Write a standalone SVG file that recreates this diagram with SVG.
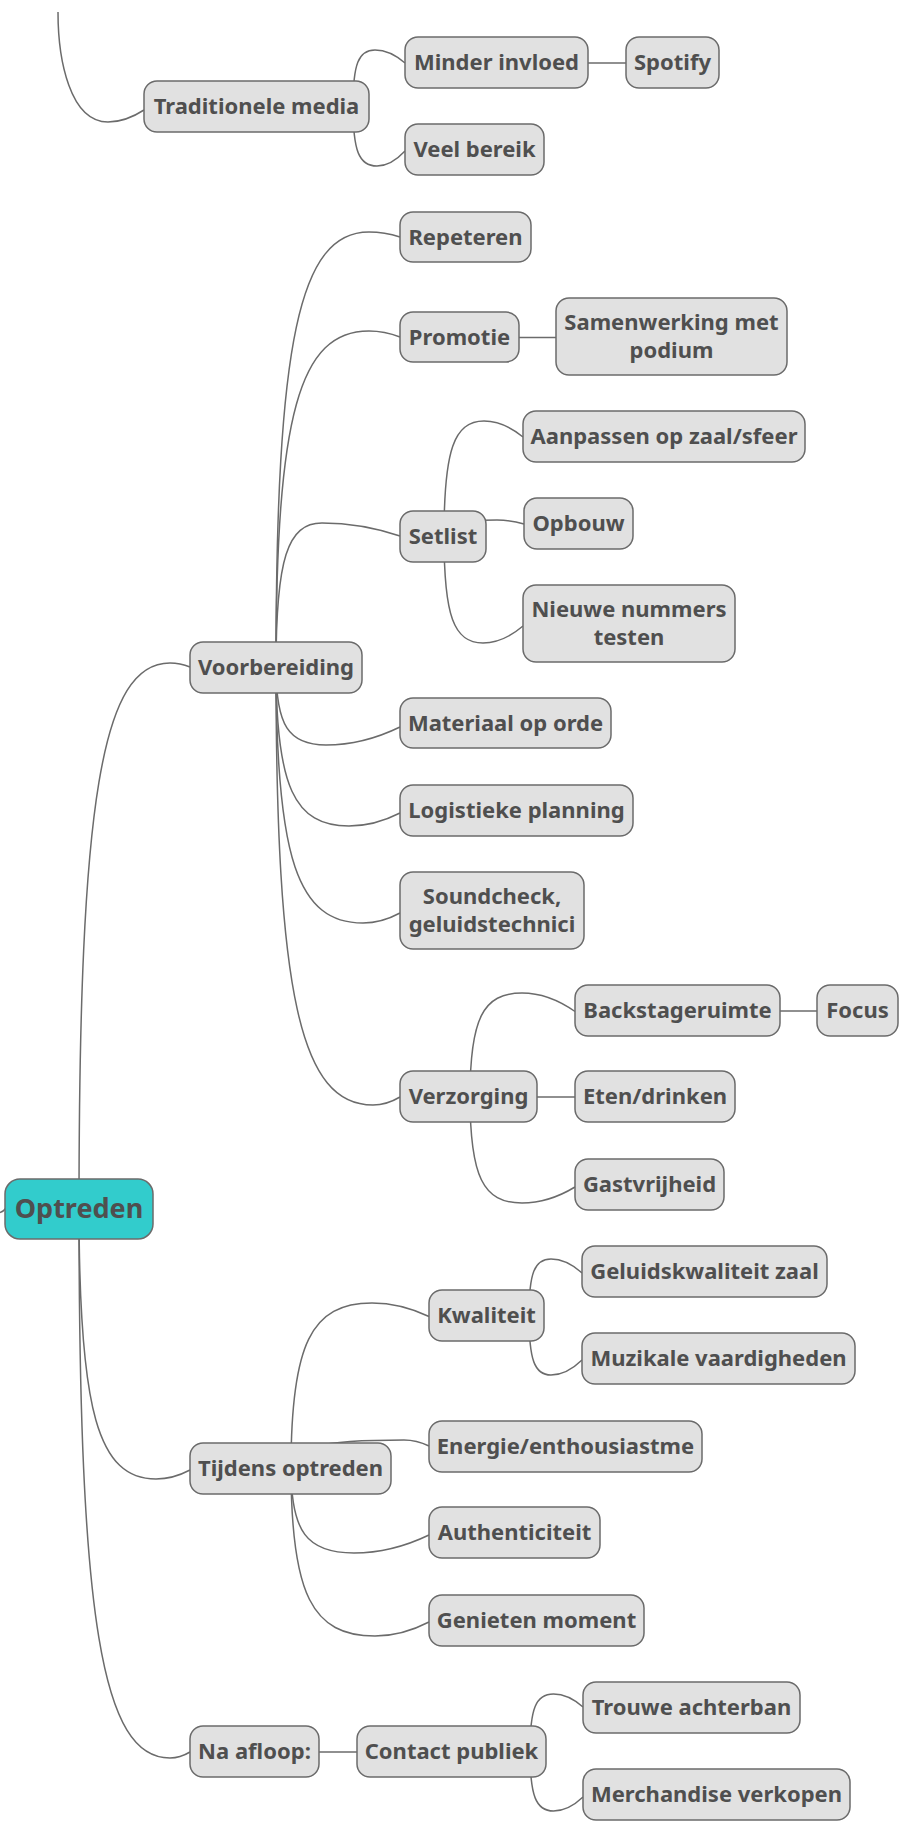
<svg xmlns="http://www.w3.org/2000/svg" width="905" height="1832" viewBox="0 0 905 1832">
  <style>
    .edge { fill: none; stroke: #6b6b6b; stroke-width: 1.5; }
    .node rect { fill: #e1e1e1; stroke: #6b6b6b; stroke-width: 1.5; }
    .node text { font-family: "Noto Sans", "Open Sans", "Liberation Sans", sans-serif; font-weight: 700; font-size: 22px; fill: #4f4f4f; text-anchor: middle; }
    .root rect { fill: #32cccc; }
    .root text { font-size: 27px; }
  </style>
  <rect width="905" height="1832" fill="#ffffff"/>

  <!-- connectors -->
  <g id="connectors">
    <!-- incoming lines from off-canvas parents -->
    <path class="edge" d="M58,12 C58,60 70,122 108,122 Q125.5,122 144,110"/>
    <path class="edge" d="M0,1212.5 Q3,1212 6,1208"/>
    <!-- Traditionele media -->
    <path class="edge" d="M353,106 C353,64 358.5,50 375,50 Q390,50 405,63"/>
    <path class="edge" d="M353,106 C353,151 359,166 377,166 Q391,166 405,151"/>
    <path class="edge" d="M588,63 L626,63"/>
    <!-- Optreden -->
    <path class="edge" d="M79,1209 C79,799.5 101.75,663 170,663 Q180,663 190,667"/>
    <path class="edge" d="M79,1209 C79,1411.5 98.25,1479 156,1479 Q173,1479 190,1470"/>
    <path class="edge" d="M79,1209 C79,1620.75 101.75,1758 170,1758 Q180,1758 190,1752"/>
    <!-- Voorbereiding -->
    <path class="edge" d="M276,667 C276,340.75 299.25,232 369,232 Q384.5,232 400,237"/>
    <path class="edge" d="M276,667 C276,415 299.25,331 369,331 Q384.5,331 400,337"/>
    <path class="edge" d="M276,667 C276,559 287.5,523 322,523 Q361,523 400,536"/>
    <path class="edge" d="M276,667 C276,725.5 288.5,745 326,745 Q363,745 400,727"/>
    <path class="edge" d="M276,667 C276,786.25 294.25,826 349,826 Q374.5,826 400,813"/>
    <path class="edge" d="M276,667 C276,859 297.75,923 363,923 Q381.5,923 400,913"/>
    <path class="edge" d="M276,667 C276,995.5 300.25,1105 373,1105 Q386.5,1105 400,1097"/>
    <!-- Promotie -->
    <path class="edge" d="M519,337.5 L556,337.5"/>
    <!-- Setlist -->
    <path class="edge" d="M444,536 C444,449.75 454,421 484,421 Q503.5,421 523,437"/>
    <path class="edge" d="M444,536 C444,524 457.25,520 497,520 Q510.5,520 524,524"/>
    <path class="edge" d="M444,536 C444,616.25 453.75,643 483,643 Q503,643 523,626"/>
    <!-- Verzorging -->
    <path class="edge" d="M470,1096.5 C470,1018.9 483,993 522,993 Q548.5,993 575,1011.5"/>
    <path class="edge" d="M537,1097 L575,1097"/>
    <path class="edge" d="M470,1096.5 C470,1176.4 483,1203 522,1203 Q548.5,1203 575,1187"/>
    <!-- Backstageruimte -->
    <path class="edge" d="M780,1011 L817,1011"/>
    <!-- Tijdens optreden -->
    <path class="edge" d="M291,1468 C291,1344.25 311.25,1303 372,1303 Q400.5,1303 429,1316.5"/>
    <path class="edge" d="M291,1468 C291,1447 319.25,1440 404,1440 Q416.5,1440 429,1446"/>
    <path class="edge" d="M291,1468 C291,1531.75 306.75,1553 354,1553 Q391.5,1553 429,1535"/>
    <path class="edge" d="M291,1468 C291,1594 312,1636 375,1636 Q402,1636 429,1622"/>
    <!-- Kwaliteit -->
    <path class="edge" d="M529,1315 C529,1273 534.5,1259 551,1259 Q566.5,1259 582,1273"/>
    <path class="edge" d="M529,1315 C529,1360 534.5,1375 551,1375 Q566.5,1375 582,1360"/>
    <!-- Na afloop -->
    <path class="edge" d="M319,1752 L357,1752"/>
    <!-- Contact publiek -->
    <path class="edge" d="M530,1751 C530,1708.25 535.9,1694 553.5,1694 Q568.25,1694 583,1707"/>
    <path class="edge" d="M530,1751 C530,1796 535.9,1811 553.5,1811 Q568.25,1811 583,1797"/>
  </g>

  <!-- nodes -->
  <g id="traditionele-media" class="node"><rect x="144" y="81" width="225" height="51" rx="13"/><text x="256.5" y="114">Traditionele media</text></g>
  <g id="minder-invloed" class="node"><rect x="405" y="37" width="183" height="51" rx="13"/><text x="496.5" y="70">Minder invloed</text></g>
  <g id="spotify" class="node"><rect x="626" y="37" width="93" height="51" rx="13"/><text x="672.5" y="70">Spotify</text></g>
  <g id="veel-bereik" class="node"><rect x="405" y="124" width="139" height="51" rx="13"/><text x="474.5" y="157">Veel bereik</text></g>

  <g id="repeteren" class="node"><rect x="400" y="212" width="131" height="50" rx="13"/><text x="465.5" y="244.5">Repeteren</text></g>
  <g id="promotie" class="node"><rect x="400" y="312" width="119" height="50" rx="13"/><text x="459.5" y="344.5">Promotie</text></g>
  <g id="samenwerking" class="node"><rect x="556" y="298" width="231" height="77" rx="13"/><text x="671.5" y="330">Samenwerking met</text><text x="671.5" y="358">podium</text></g>
  <g id="aanpassen" class="node"><rect x="523" y="411" width="282" height="51" rx="13"/><text x="664" y="444">Aanpassen op zaal/sfeer</text></g>
  <g id="setlist" class="node"><rect x="400" y="511" width="86" height="51" rx="13"/><text x="443" y="544">Setlist</text></g>
  <g id="opbouw" class="node"><rect x="524" y="498" width="109" height="51" rx="13"/><text x="578.5" y="531">Opbouw</text></g>
  <g id="nieuwe-nummers" class="node"><rect x="523" y="585" width="212" height="77" rx="13"/><text x="629" y="617">Nieuwe nummers</text><text x="629" y="645">testen</text></g>
  <g id="voorbereiding" class="node"><rect x="190" y="642" width="172" height="51" rx="13"/><text x="276" y="675">Voorbereiding</text></g>
  <g id="materiaal" class="node"><rect x="400" y="698" width="211" height="50" rx="13"/><text x="505.5" y="730.5">Materiaal op orde</text></g>
  <g id="logistieke" class="node"><rect x="400" y="785" width="233" height="51" rx="13"/><text x="516.5" y="818">Logistieke planning</text></g>
  <g id="soundcheck" class="node"><rect x="400" y="872" width="184" height="77" rx="13"/><text x="492" y="904">Soundcheck,</text><text x="492" y="932">geluidstechnici</text></g>
  <g id="backstageruimte" class="node"><rect x="575" y="985" width="205" height="51" rx="13"/><text x="677.5" y="1018">Backstageruimte</text></g>
  <g id="focus" class="node"><rect x="817" y="985" width="81" height="51" rx="13"/><text x="857.5" y="1018">Focus</text></g>
  <g id="verzorging" class="node"><rect x="400" y="1071" width="137" height="51" rx="13"/><text x="468.5" y="1104">Verzorging</text></g>
  <g id="eten-drinken" class="node"><rect x="575" y="1071" width="160" height="51" rx="13"/><text x="655" y="1104">Eten/drinken</text></g>
  <g id="gastvrijheid" class="node"><rect x="575" y="1159" width="149" height="51" rx="13"/><text x="649.5" y="1192">Gastvrijheid</text></g>

  <g id="optreden" class="node root"><rect x="5" y="1179" width="148" height="60" rx="15"/><text x="79" y="1218">Optreden</text></g>

  <g id="geluidskwaliteit" class="node"><rect x="582" y="1246" width="245" height="51" rx="13"/><text x="704.5" y="1279">Geluidskwaliteit zaal</text></g>
  <g id="kwaliteit" class="node"><rect x="429" y="1290" width="115" height="51" rx="13"/><text x="486.5" y="1323">Kwaliteit</text></g>
  <g id="muzikale" class="node"><rect x="582" y="1333" width="273" height="51" rx="13"/><text x="718.5" y="1366">Muzikale vaardigheden</text></g>
  <g id="energie" class="node"><rect x="429" y="1421" width="273" height="51" rx="13"/><text x="565.5" y="1454">Energie/enthousiastme</text></g>
  <g id="tijdens-optreden" class="node"><rect x="190" y="1443" width="201" height="51" rx="13"/><text x="290.5" y="1476">Tijdens optreden</text></g>
  <g id="authenticiteit" class="node"><rect x="429" y="1507" width="171" height="51" rx="13"/><text x="514.5" y="1540">Authenticiteit</text></g>
  <g id="genieten" class="node"><rect x="429" y="1595" width="215" height="51" rx="13"/><text x="536.5" y="1628">Genieten moment</text></g>

  <g id="trouwe-achterban" class="node"><rect x="583" y="1682" width="217" height="51" rx="13"/><text x="691.5" y="1715">Trouwe achterban</text></g>
  <g id="na-afloop" class="node"><rect x="190" y="1726" width="129" height="51" rx="13"/><text x="254.5" y="1759">Na afloop:</text></g>
  <g id="contact-publiek" class="node"><rect x="357" y="1726" width="189" height="51" rx="13"/><text x="451.5" y="1759">Contact publiek</text></g>
  <g id="merchandise" class="node"><rect x="583" y="1769" width="267" height="51" rx="13"/><text x="716.5" y="1802">Merchandise verkopen</text></g>
</svg>
